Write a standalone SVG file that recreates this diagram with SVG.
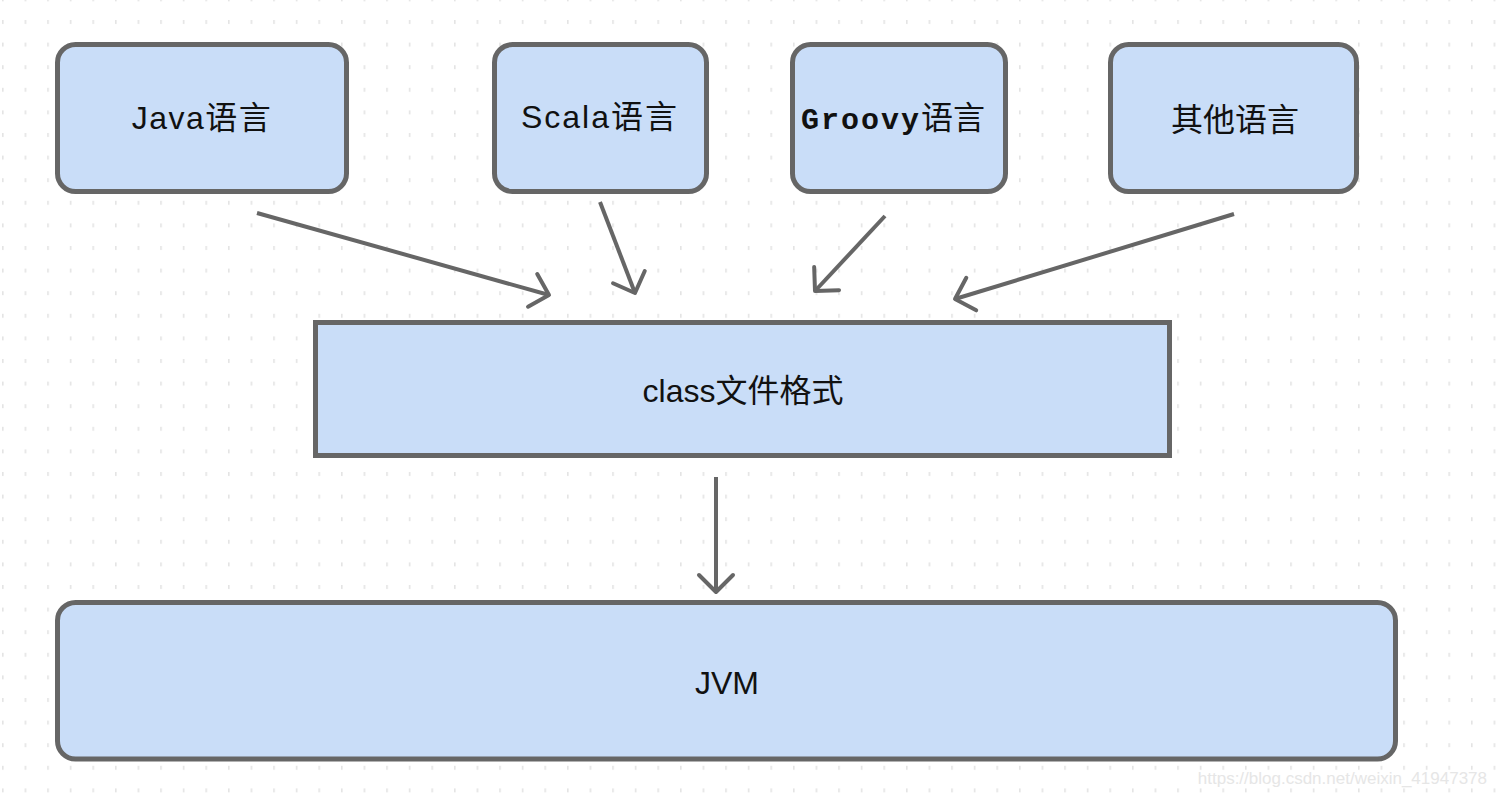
<svg xmlns="http://www.w3.org/2000/svg" width="1496" height="796" viewBox="0 0 1496 796">
<defs>
<pattern id="grid" x="2" y="20" width="22.6" height="22.6" patternUnits="userSpaceOnUse">
<rect x="0" y="0" width="1.6" height="4" fill="#e4e4e4"/>
</pattern>
<marker id="arr" markerUnits="userSpaceOnUse" viewBox="-22 -22 26 44" markerWidth="26" markerHeight="44" refX="0" refY="0" orient="auto">
<path d="M-17,-17 L0,0 L-17,17" fill="none" stroke="#666666" stroke-width="4" stroke-linecap="round" stroke-linejoin="round"/>
</marker>
</defs>
<style>
.box{fill:#c9ddf8;stroke:#666666;stroke-width:5}
.t{font-family:"Liberation Sans","Noto Sans CJK SC",sans-serif;font-size:32px;fill:#111111;text-anchor:middle}
.g{font-family:"Liberation Mono","Noto Sans CJK SC",monospace;font-weight:bold}
.c{stroke:#666666;stroke-width:4;fill:none;marker-end:url(#arr)}
</style>
<rect x="0" y="0" width="1496" height="796" fill="#ffffff"/>
<rect x="0" y="0" width="1496" height="796" fill="url(#grid)"/>
<g id="connectors">
<line class="c" x1="257" y1="213" x2="549" y2="295"/>
<line class="c" x1="600" y1="202" x2="635" y2="293"/>
<line class="c" x1="885" y1="216" x2="815" y2="291"/>
<line class="c" x1="1234" y1="214" x2="955" y2="299"/>
<line class="c" x1="716" y1="477" x2="716" y2="592"/>
</g>
<g id="java">
<rect class="box" x="57.5" y="44.5" width="289" height="147" rx="18"/>
<text class="t" x="202" y="129" letter-spacing="1.5">Java语言</text>
</g>
<g id="scala">
<rect class="box" x="494.5" y="44.5" width="212" height="147" rx="18"/>
<text class="t" x="600" y="128" letter-spacing="2">Scala语言</text>
</g>
<g id="groovy">
<rect class="box" x="792.5" y="44.5" width="213" height="147" rx="18"/>
<text class="t" x="893" y="129"><tspan class="g" font-size="30" letter-spacing="2">Groovy</tspan><tspan>语言</tspan></text>
</g>
<g id="other">
<rect class="box" x="1110.5" y="44.5" width="246" height="147" rx="18"/>
<text class="t" x="1235" y="131">其他语言</text>
</g>
<g id="classfile">
<rect class="box" x="315.5" y="322.5" width="854" height="133"/>
<text class="t" x="743" y="402" font-size="36">class文件格式</text>
</g>
<g id="jvm">
<rect class="box" x="57.5" y="602.5" width="1338" height="156.5" rx="18"/>
<text class="t" x="727" y="694" font-size="34">JVM</text>
</g>
<text x="1487" y="784" font-family="Liberation Sans,sans-serif" font-size="17" fill="#e6e6e6" text-anchor="end">https://blog.csdn.net/weixin_41947378</text>
</svg>
